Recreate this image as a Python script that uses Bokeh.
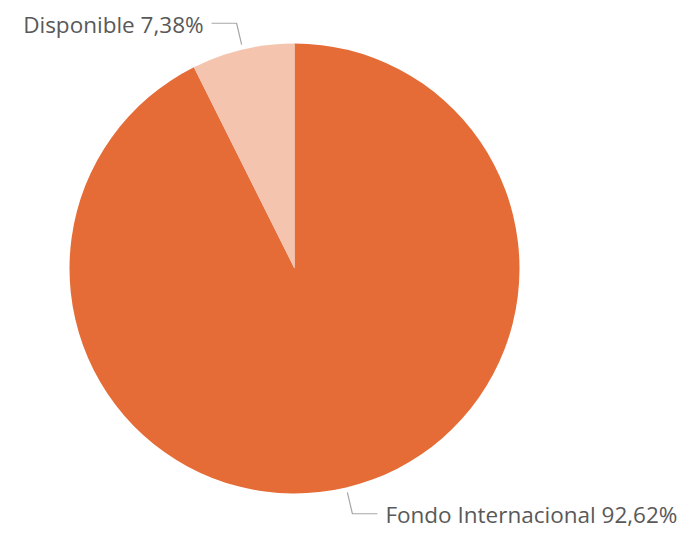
import numpy as np
from bokeh.plotting import figure
from bokeh.models import Range1d, ColumnDataSource
from bokeh.core.properties import value
from bokeh.embed import file_html
from bokeh.resources import INLINE

categories = ["Fondo Internacional", "Disponible"]
shares = [92.62, 7.38]
labels = ["Fondo Internacional 92,62%", "Disponible 7,38%"]
colors = ["#E56C37", "#F4C4AE"]

W, H = 694, 535
cx, cy, R = 294, 268, 225

p = figure(width=W, height=H, output_backend="svg", toolbar_location=None,
           x_range=Range1d(0, W), y_range=Range1d(H, 0), min_border=0)
p.axis.visible = False
p.grid.visible = False
p.outline_line_color = None
p.background_fill_color = "white"

fr = np.array(shares) / sum(shares)
cum = np.concatenate([[0], np.cumsum(fr)])
# data coords: y grows downward; angle measured clockwise on screen
start = -np.pi / 2 + 2 * np.pi * cum[:-1]
end = -np.pi / 2 + 2 * np.pi * cum[1:]
# wedge angles are interpreted in screen (y-up) convention -> negate
src = ColumnDataSource(dict(start=-start, end=-end, color=colors))
p.wedge(x=cx, y=cy, radius=R, start_angle="start", end_angle="end",
        direction="clock", fill_color="color", line_color=None, source=src)

mid = (start + end) / 2
for i, lab in enumerate(labels):
    dx, dy = np.cos(mid[i]), np.sin(mid[i])
    x1, y1 = cx + 230 * dx, cy + 230 * dy
    x2, y2 = cx + 252 * dx, cy + 252 * dy
    side = 1 if dx >= 0 else -1
    x3 = x2 + side * 25
    p.line([x1, x2, x3], [y1, y2, y2], line_color="#A6A6A6", line_width=1.2)
    p.text([x3 + side * 8], [y2 + 1], text=[lab], text_font=value("Open Sans"),
           text_font_size="22.5px", text_color="#595959",
           text_align="left" if side > 0 else "right", text_baseline="middle")

open("out.html", "w").write(file_html(p, INLINE))
